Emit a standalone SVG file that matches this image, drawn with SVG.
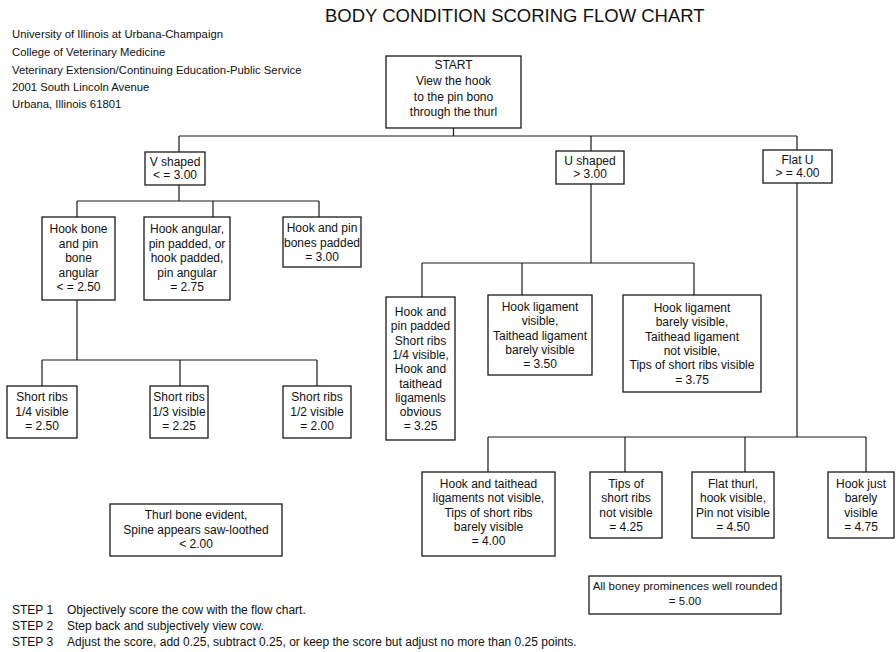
<svg xmlns="http://www.w3.org/2000/svg" width="896" height="652" viewBox="0 0 896 652">
<style>
.bg{fill:#fff}
.box{fill:#fff;stroke:#1a1a1a;stroke-width:1.3}
.conn{fill:none;stroke:#1a1a1a;stroke-width:1.2}
text{font-family:"Liberation Sans",Arial,Helvetica,sans-serif;fill:#111}
.t{font-size:12px;text-anchor:middle}
.hdr{font-size:11.3px}
.step{font-size:12px}
.title{font-size:18.5px}
</style>
<rect class="bg" x="0" y="0" width="896" height="652"/>
<text class="title" x="325" y="22">BODY CONDITION SCORING FLOW CHART</text>
<g id="header">
<text class="hdr" x="12" y="38">University of Illinois at Urbana-Champaign</text>
<text class="hdr" x="12" y="56">College of Veterinary Medicine</text>
<text class="hdr" x="12" y="74">Veterinary Extension/Continuing Education-Public Service</text>
<text class="hdr" x="12" y="91">2001 South Lincoln Avenue</text>
<text class="hdr" x="12" y="108">Urbana, Illinois 61801</text>
</g>
<g id="connectors">
<path class="conn" d="M453.5 128V136M179 136H797M179 136V152M591 136V151M797 136V150"/>
<path class="conn" d="M179 185V201M77 201H319M77 201V217M213 201V217M319 201V217"/>
<path class="conn" d="M77 300V360M42 360H317M42 360V386M180 360V386M317 360V386"/>
<path class="conn" d="M591 184V263M422 263H694M422 263V297M522 263V295M694 263V295"/>
<path class="conn" d="M797 183V437M488 437H866M488 437V472M625 437V472M745 437V472M866 437V472"/>
</g>
<g id="start">
<rect class="box" x="386" y="56" width="135" height="72"/>
<text class="t"><tspan x="453.5" y="69">START</tspan><tspan x="453.5" y="85">View the hook</tspan><tspan x="453.5" y="101">to the pin bono</tspan><tspan x="453.5" y="116">through the thurl</tspan></text>
</g>
<g id="v-shaped">
<rect class="box" x="145" y="152" width="60" height="33"/>
<text class="t"><tspan x="175" y="166">V shaped</tspan><tspan x="175" y="179">&lt; = 3.00</tspan></text>
</g>
<g id="u-shaped">
<rect class="box" x="556" y="151" width="68" height="33"/>
<text class="t"><tspan x="590" y="165">U shaped</tspan><tspan x="590" y="178">&gt; 3.00</tspan></text>
</g>
<g id="flat-u">
<rect class="box" x="763" y="150" width="69" height="33"/>
<text class="t"><tspan x="797.5" y="164">Flat U</tspan><tspan x="797.5" y="177">&gt; = 4.00</tspan></text>
</g>
<g id="hook-bone-angular">
<rect class="box" x="42" y="217" width="73" height="83"/>
<text class="t"><tspan x="78.5" y="233">Hook bone</tspan><tspan x="78.5" y="247.5">and pin</tspan><tspan x="78.5" y="262">bone</tspan><tspan x="78.5" y="276.5">angular</tspan><tspan x="78.5" y="291">&lt; = 2.50</tspan></text>
</g>
<g id="hook-angular">
<rect class="box" x="144" y="217" width="86" height="83"/>
<text class="t"><tspan x="187" y="233">Hook angular,</tspan><tspan x="187" y="247.5">pin padded, or</tspan><tspan x="187" y="262">hook padded,</tspan><tspan x="187" y="276.5">pin angular</tspan><tspan x="187" y="291">= 2.75</tspan></text>
</g>
<g id="hook-pin-padded">
<rect class="box" x="283" y="217" width="78" height="50"/>
<text class="t"><tspan x="322" y="232">Hook and pin</tspan><tspan x="322" y="246.5">bones padded</tspan><tspan x="322" y="261">= 3.00</tspan></text>
</g>
<g id="short-ribs-quarter">
<rect class="box" x="7" y="386" width="70" height="52"/>
<text class="t"><tspan x="42" y="401">Short ribs</tspan><tspan x="42" y="415.5">1/4 visible</tspan><tspan x="42" y="430">= 2.50</tspan></text>
</g>
<g id="short-ribs-third">
<rect class="box" x="150" y="386" width="58" height="52"/>
<text class="t"><tspan x="179" y="401">Short ribs</tspan><tspan x="179" y="415.5">1/3 visible</tspan><tspan x="179" y="430">= 2.25</tspan></text>
</g>
<g id="short-ribs-half">
<rect class="box" x="283" y="386" width="68" height="52"/>
<text class="t"><tspan x="317" y="401">Short ribs</tspan><tspan x="317" y="415.5">1/2 visible</tspan><tspan x="317" y="430">= 2.00</tspan></text>
</g>
<g id="thurl-evident">
<rect class="box" x="110" y="504" width="172" height="52"/>
<text class="t"><tspan x="196" y="519">Thurl bone evident,</tspan><tspan x="196" y="533.5">Spine appears saw-loothed</tspan><tspan x="196" y="548">&lt; 2.00</tspan></text>
</g>
<g id="hook-pin-padded-325">
<rect class="box" x="386" y="297" width="69" height="143"/>
<text class="t"><tspan x="420.5" y="316">Hook and</tspan><tspan x="420.5" y="330.3">pin padded</tspan><tspan x="420.5" y="344.6">Short ribs</tspan><tspan x="420.5" y="358.9">1/4 visible,</tspan><tspan x="420.5" y="373.2">Hook and</tspan><tspan x="420.5" y="387.5">taithead</tspan><tspan x="420.5" y="401.8">ligamenls</tspan><tspan x="420.5" y="416.1">obvious</tspan><tspan x="420.5" y="430.4">= 3.25</tspan></text>
</g>
<g id="hook-ligament-visible">
<rect class="box" x="488" y="295" width="104" height="80"/>
<text class="t"><tspan x="540" y="311">Hook ligament</tspan><tspan x="540" y="325.3">visible,</tspan><tspan x="540" y="339.6">Taithead ligament</tspan><tspan x="540" y="353.9">barely visible</tspan><tspan x="540" y="368.2">= 3.50</tspan></text>
</g>
<g id="hook-ligament-barely">
<rect class="box" x="623" y="295" width="138" height="97"/>
<text class="t"><tspan x="692" y="312">Hook ligament</tspan><tspan x="692" y="326.3">barely visible,</tspan><tspan x="692" y="340.6">Taithead ligament</tspan><tspan x="692" y="354.9">not visible,</tspan><tspan x="692" y="369.2">Tips of short ribs visible</tspan><tspan x="692" y="383.5">= 3.75</tspan></text>
</g>
<g id="ligaments-not-visible">
<rect class="box" x="422" y="472" width="133" height="84"/>
<text class="t"><tspan x="488.5" y="488">Hook and taithead</tspan><tspan x="488.5" y="502.3">ligaments not visible,</tspan><tspan x="488.5" y="516.6">Tips of short ribs</tspan><tspan x="488.5" y="530.9">barely visible</tspan><tspan x="488.5" y="545.2">= 4.00</tspan></text>
</g>
<g id="tips-not-visible">
<rect class="box" x="590" y="472" width="72" height="66"/>
<text class="t"><tspan x="626" y="488">Tips of</tspan><tspan x="626" y="502.3">short ribs</tspan><tspan x="626" y="516.6">not visible</tspan><tspan x="626" y="530.9">= 4.25</tspan></text>
</g>
<g id="flat-thurl">
<rect class="box" x="692" y="472" width="82" height="66"/>
<text class="t"><tspan x="733" y="488">Flat thurl,</tspan><tspan x="733" y="502.3">hook visible,</tspan><tspan x="733" y="516.6">Pin not visible</tspan><tspan x="733" y="530.9">= 4.50</tspan></text>
</g>
<g id="hook-barely-visible">
<rect class="box" x="828" y="472" width="66" height="66"/>
<text class="t"><tspan x="861" y="488">Hook just</tspan><tspan x="861" y="502.3">barely</tspan><tspan x="861" y="516.6">visible</tspan><tspan x="861" y="530.9">= 4.75</tspan></text>
</g>
<g id="all-rounded">
<rect class="box" x="589" y="576" width="192" height="38"/>
<text class="t" style="font-size:11.5px"><tspan x="685" y="590">All boney prominences well rounded</tspan><tspan x="685" y="604.5">= 5.00</tspan></text>
</g>
<g id="steps">
<text class="step" x="12" y="614">STEP 1</text><text class="step" x="67" y="614">Objectively score the cow with the flow chart.</text>
<text class="step" x="12" y="630">STEP 2</text><text class="step" x="67" y="630">Step back and subjectively view cow.</text>
<text class="step" x="12" y="646">STEP 3</text><text class="step" x="67" y="646">Adjust the score, add 0.25, subtract 0.25, or keep the score but adjust no more than 0.25 points.</text>
</g>
</svg>
